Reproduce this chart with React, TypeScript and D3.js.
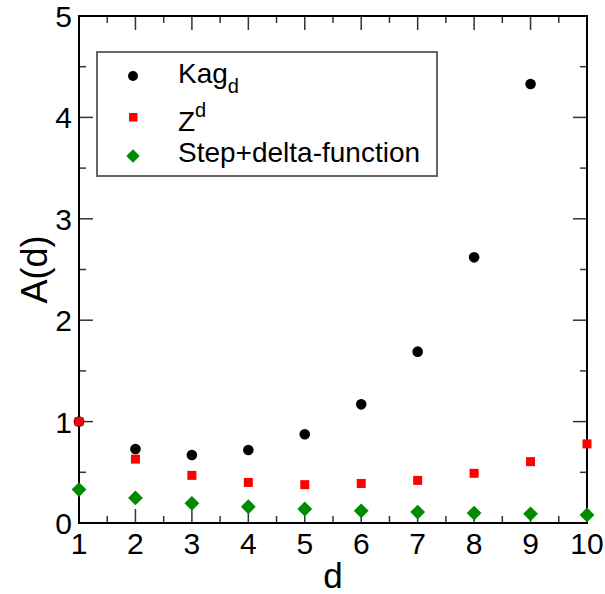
import React from "react";
import * as d3 from "d3";

const dValues = [1, 2, 3, 4, 5, 6, 7, 8, 9, 10];
const kagValues = [1.0, 0.73, 0.67, 0.72, 0.875, 1.17, 1.69, 2.62, 4.33];
const zValues = [1.0, 0.63, 0.47, 0.4, 0.378, 0.39, 0.42, 0.49, 0.605, 0.78];
const stepValues = [0.33, 0.247, 0.194, 0.16, 0.138, 0.12, 0.108, 0.098, 0.09, 0.08];
const xTicks = [1, 2, 3, 4, 5, 6, 7, 8, 9, 10];
const yTicks = [0, 1, 2, 3, 4, 5];

const W = 605;
const H = 594;
const m = { left: 79, right: 18, top: 16, bottom: 71 };
const GREEN = "rgb(0,139,0)";
const FONT = "'Liberation Sans', Arial, sans-serif";

export default function App() {
  const x = d3.scaleLinear().domain([1, 10]).range([m.left, W - m.right]);
  const y = d3.scaleLinear().domain([0, 5]).range([H - m.bottom, m.top]);
  const x0 = x.range()[0], x1 = x.range()[1];
  const y0 = y.range()[0], y1 = y.range()[1];
  const xMinor = d3.range(1.5, 10, 1);
  const yMinor = d3.range(0.5, 5, 1);
  const MAJ = 14, MIN = 7;
  const tickColor = "#333";
  const diamond = d3.symbol().type(d3.symbolDiamond2).size(140)()!;
  const diamondLeg = d3.symbol().type(d3.symbolDiamond2).size(115)()!;

  return (
    <svg width={W} height={H} style={{ display: "block", position: "absolute", left: 0, top: 0 }} fontFamily={FONT}>
      <rect x={0} y={0} width={W} height={H} fill="white" />
      {/* ticks */}
      <g stroke={tickColor} strokeWidth={1.5}>
        {xTicks.map((t) => (
          <g key={"xt" + t}>
            <line x1={x(t)} x2={x(t)} y1={y0} y2={y0 - MAJ} />
            <line x1={x(t)} x2={x(t)} y1={y1} y2={y1 + MAJ} />
          </g>
        ))}
        {xMinor.map((t) => (
          <g key={"xm" + t}>
            <line x1={x(t)} x2={x(t)} y1={y0} y2={y0 - MIN} />
            <line x1={x(t)} x2={x(t)} y1={y1} y2={y1 + MIN} />
          </g>
        ))}
        {yTicks.map((t) => (
          <g key={"yt" + t}>
            <line x1={x0} x2={x0 + MAJ} y1={y(t)} y2={y(t)} />
            <line x1={x1} x2={x1 - MAJ} y1={y(t)} y2={y(t)} />
          </g>
        ))}
        {yMinor.map((t) => (
          <g key={"ym" + t}>
            <line x1={x0} x2={x0 + MIN} y1={y(t)} y2={y(t)} />
            <line x1={x1} x2={x1 - MIN} y1={y(t)} y2={y(t)} />
          </g>
        ))}
      </g>
      <rect x={x0} y={y1} width={x1 - x0} height={y0 - y1} fill="none" stroke="black" strokeWidth={2} />
      {/* tick labels */}
      {xTicks.map((t) => (
        <text key={"xl" + t} x={x(t)} y={y0 + 31} fontSize={30} textAnchor="middle">{t}</text>
      ))}
      {yTicks.map((t) => (
        <text key={"yl" + t} x={x0 - 7} y={y(t) + 11} fontSize={30} textAnchor="end">{t}</text>
      ))}
      {/* axis labels */}
      <text x={(x0 + x1) / 2} y={588} fontSize={35} textAnchor="middle">d</text>
      <text transform={`translate(47, ${(y0 + y1) / 2}) rotate(-90)`} fontSize={36} textAnchor="middle">A(d)</text>
      {/* data */}
      {kagValues.map((v, i) => (
        <circle key={"k" + i} cx={x(dValues[i])} cy={y(v)} r={5.3} fill="black" />
      ))}
      {zValues.map((v, i) => (
        <rect key={"z" + i} x={x(dValues[i]) - 4.5} y={y(v) - 4.5} width={9} height={9} fill="red" />
      ))}
      {stepValues.map((v, i) => (
        <path key={"s" + i} d={diamond} transform={`translate(${x(dValues[i])},${y(v)})`} fill={GREEN} />
      ))}
      {/* legend */}
      <rect x={97} y={52} width={340} height={124} fill="white" stroke="#666" strokeWidth={2} />
      <circle cx={133} cy={76} r={5} fill="black" />
      <rect x={129} y={113} width={8.5} height={8.5} fill="red" />
      <path d={diamondLeg} transform="translate(133,156)" fill={GREEN} />
      <text x={178} y={83} fontSize={28}>
        Kag<tspan fontSize={20} dy={10}>d</tspan>
      </text>
      <text x={178} y={131} fontSize={28}>
        Z<tspan fontSize={20} dy={-14}>d</tspan>
      </text>
      <text x={178} y={162} fontSize={28}>Step+delta-function</text>
    </svg>
  );
}
